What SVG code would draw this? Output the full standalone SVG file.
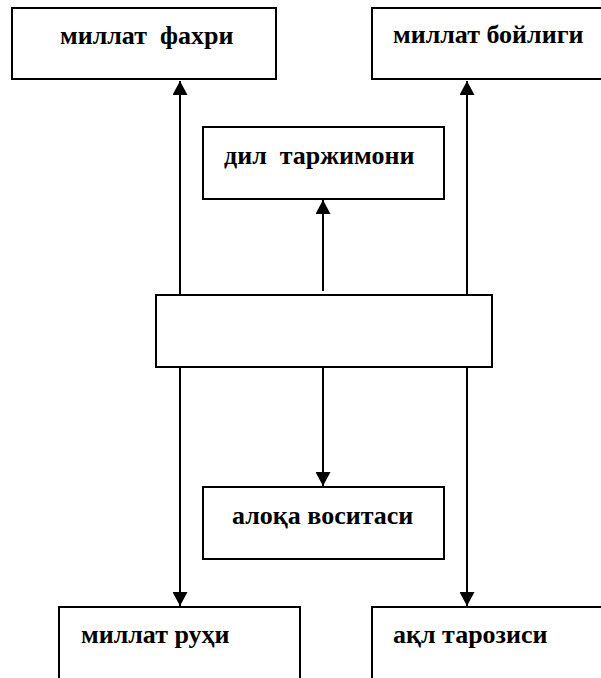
<svg xmlns="http://www.w3.org/2000/svg" width="601" height="678" viewBox="0 0 601 678">
<style>
.box{fill:#fff;stroke:#000;stroke-width:2}
.t{font-family:"Liberation Serif","Times New Roman",serif;font-weight:bold;font-size:26px;fill:#000}
.c{stroke:#000;stroke-width:2;fill:none}
</style>
<defs>
<marker id="ah" viewBox="0 0 14 15" refX="14" refY="7.5" markerWidth="14" markerHeight="15" markerUnits="userSpaceOnUse" orient="auto">
<path d="M0,0 L14,7.5 L0,15 Z" fill="#000"/>
</marker>
</defs>
<g id="connectors">
<line class="c" x1="180" y1="296" x2="180" y2="81" marker-end="url(#ah)"/>
<line class="c" x1="467" y1="296" x2="467" y2="81" marker-end="url(#ah)"/>
<line class="c" x1="323" y1="291" x2="323" y2="200" marker-end="url(#ah)"/>
<line class="c" x1="180" y1="366" x2="180" y2="606" marker-end="url(#ah)"/>
<line class="c" x1="467" y1="366" x2="467" y2="606" marker-end="url(#ah)"/>
<line class="c" x1="323" y1="366" x2="323" y2="486" marker-end="url(#ah)"/>
</g>
<g id="n1"><rect class="box" x="12" y="8" width="264" height="71"/><text class="t" x="60" y="44" xml:space="preserve">миллат  фахри</text></g>
<g id="n2"><rect class="box" x="372" y="8" width="240" height="71"/><text class="t" x="393" y="43">миллат бойлиги</text></g>
<g id="n3"><rect class="box" x="203" y="127" width="241" height="72"/><text class="t" x="224" y="164" xml:space="preserve">дил  таржимони</text></g>
<g id="n4"><rect class="box" x="156" y="295" width="336" height="72"/></g>
<g id="n5"><rect class="box" x="203" y="487" width="241" height="72"/><text class="t" x="232" y="524">алоқа воситаси</text></g>
<g id="n6"><rect class="box" x="59" y="607" width="241" height="80"/><text class="t" x="81" y="643">миллат руҳи</text></g>
<g id="n7"><rect class="box" x="372" y="607" width="240" height="80"/><text class="t" x="393" y="643">ақл тарозиси</text></g>
</svg>
